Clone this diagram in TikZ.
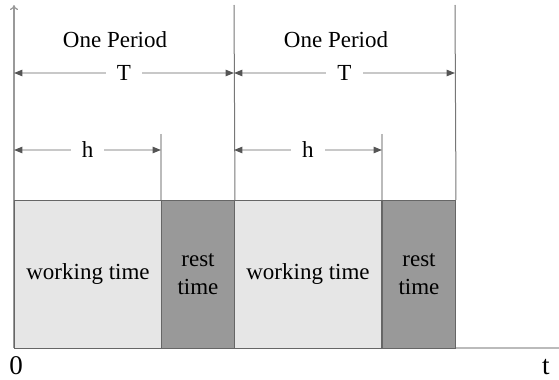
\documentclass[tikz,border=0pt]{standalone}
\usepackage{fontspec}
\setmainfont{Liberation Serif}
\newfontfamily\tms{Liberation Serif}
\usetikzlibrary{arrows.meta}
\definecolor{worklight}{HTML}{E6E6E6}
\definecolor{restdark}{HTML}{999999}
\definecolor{edgegray}{HTML}{666666}
\definecolor{tipgray}{HTML}{555555}
\definecolor{dimgray}{HTML}{C8C8C8}
\definecolor{bargray}{HTML}{777777}
\definecolor{hgray}{HTML}{BBBBBB}
\begin{document}
\begin{tikzpicture}[x=0.5pt,y=-0.5pt,
  txt/.style={font=\tms\fontsize{11.5pt}{14pt}\selectfont, inner sep=0pt},
  bigtxt/.style={font=\tms\fontsize{13.5pt}{14pt}\selectfont, inner sep=0pt},
  gaplabel/.style={txt, fill=white, inner xsep=5.5pt, inner ysep=1pt},
  dimline/.style={draw=dimgray, line width=0.6pt,
    {Triangle[length=4.2pt,width=3.2pt,color=tipgray,fill=tipgray]}-{Triangle[length=4.2pt,width=3.2pt,color=tipgray,fill=tipgray]}},
  workbox/.style={draw=edgegray, fill=worklight, line width=0.5pt, minimum width=73.5pt, minimum height=74pt, inner sep=0pt, txt, anchor=north west},
  restbox/.style={draw=edgegray, fill=restdark, line width=0.5pt, minimum width=36.5pt, minimum height=74pt, inner sep=0pt, txt, align=center, anchor=north west},
  bar/.style={draw=bargray, line width=0.5pt},
  hbar/.style={draw=hgray, line width=0.6pt}
]
\useasboundingbox (0,0) rectangle (559,380);

% axes
\coordinate (o) at (14,348);
\coordinate (ytop) at (14,5);
\coordinate (xend) at (559,348);
\draw[hgray, line width=0.6pt] (o) -- (xend);
\draw[restdark, line width=0.6pt, -{To[length=2.5pt,width=4pt]}] (o) -- (ytop);

% boxes
\node[workbox] (w1) at (14,200) {working time};
\node[restbox] (r1) at (161,200) {rest\\time};
\node[workbox] (w2) at (234,200) {working time};
\node[restbox] (r2) at (382,200) {rest\\time};

% period bars
\coordinate (p1top) at (234,5);
\coordinate (p2top) at (455,5);
\coordinate (h1top) at (161,134);
\coordinate (h2top) at (382,134);
\draw[bar] (p1top) -- (r1.north east);
\draw[bar] (p2top) -- (r2.north east);
\draw[hbar] (h1top) -- (r1.north west);
\draw[hbar] (h2top) -- (r2.north west);

% dimension lines
\coordinate (t1a) at (14,73);
\coordinate (t1b) at (234,73);
\coordinate (t2a) at (234,73);
\coordinate (t2b) at (455,73);
\coordinate (h1a) at (14,150);
\coordinate (h1b) at (161,150);
\coordinate (h2a) at (234,150);
\coordinate (h2b) at (382,150);
\draw[dimline] (t1a) -- node[gaplabel] (T1) {T} (t1b);
\draw[dimline] (t2a) -- node[gaplabel] (T2) {T} (t2b);
\draw[dimline] (h1a) -- node[gaplabel] (H1) {h} (h1b);
\draw[dimline] (h2a) -- node[gaplabel] (H2) {h} (h2b);

% labels
\node[txt] (op1) at (115,40) {One Period};
\node[txt] (op2) at (336,40) {One Period};
\node[bigtxt] (zero) at (16,366) {0};
\node[bigtxt] (tlab) at (546,367) {t};
\end{tikzpicture}
\end{document}
